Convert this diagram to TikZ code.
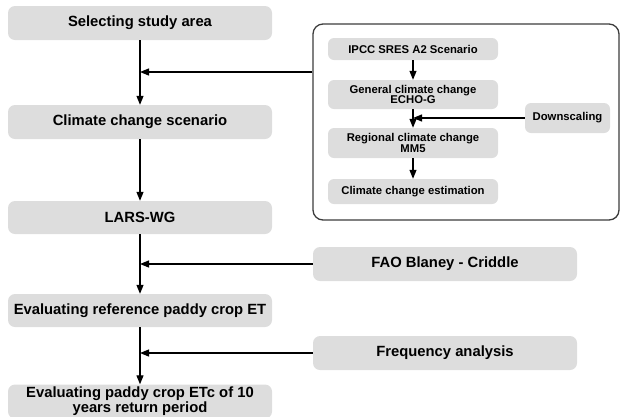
\documentclass[tikz,border=0pt]{standalone}
\usepackage{fontspec}
\setmainfont{Liberation Sans}
\usetikzlibrary{arrows.meta}
\definecolor{boxgray}{RGB}{221,221,221}
\definecolor{framegray}{RGB}{60,60,60}

\begin{document}
\begin{tikzpicture}[x=1pt,y=-1pt]
  \tikzstyle{every node}+=[inner sep=0pt, align=center]
  \tikzstyle{stage}=[fill=boxgray, rounded corners=7pt, minimum width=264pt, minimum height=34pt, font=\fontsize{14.8}{13.5}\selectfont\bfseries]
  \tikzstyle{substage}=[fill=boxgray, rounded corners=6pt, font=\fontsize{11.3}{10.5}\selectfont\bfseries]
  \tikzstyle{flow}=[draw=black, line width=1.2pt, -{Triangle[length=9pt,width=7pt]}]
  \useasboundingbox (0,0) rectangle (620,416);
  \node (sel) [stage] at (140,23) {Selecting study area};
  \node (ccs) [stage] at (140,122) {Climate change scenario};
  \node (lars) [stage, minimum height=33pt] at (140,217.5) {LARS-WG};
  \node (eref) [stage, minimum height=33pt] at (140,310.5) {Evaluating reference paddy crop ET};
  \node (etc) [stage] at (140,401.5) {Evaluating paddy crop ETc of 10\\years return period};
  \node (frame) [draw=framegray, line width=1.3pt, rounded corners=10pt, minimum width=306pt, minimum height=196pt] at (466,122) {};
  \node (ipcc) [substage, minimum width=170pt, minimum height=22pt] at (413,49) {IPCC SRES A2 Scenario};
  \node (gen) [substage, minimum width=170pt, minimum height=29pt] at (413,94.5) {General climate change\\ECHO-G};
  \node (reg) [substage, minimum width=170pt, minimum height=30pt] at (413,143) {Regional climate change\\MM5};
  \node (est) [substage, minimum width=170pt, minimum height=25pt] at (413,191.5) {Climate change estimation};
  \node (down) [substage, minimum width=85pt, minimum height=30pt] at (567.5,118) {Downscaling};
  \node (fao) [stage] at (445,264) {FAO Blaney - Criddle};
  \node (freq) [stage] at (445,353) {Frequency analysis};
  \coordinate (j1) at (140,72);
  \draw [flow] (sel) -- (ccs);
  \draw [flow] (ccs) -- (lars);
  \draw [flow] (lars) -- (eref);
  \draw [flow] (eref) -- (etc);
  \draw [flow] (frame.west |- j1) -- (j1);
  \draw [flow] (fao.west) -- (fao.west -| sel.center);
  \draw [flow] (freq.west) -- (freq.west -| sel.center);
  \draw [flow] (ipcc) -- (gen);
  \draw [flow] (gen) -- (reg);
  \draw [flow] (reg) -- (est);
  \draw [flow] (down.west) -- (down.west -| gen.center);
\end{tikzpicture}
\end{document}
